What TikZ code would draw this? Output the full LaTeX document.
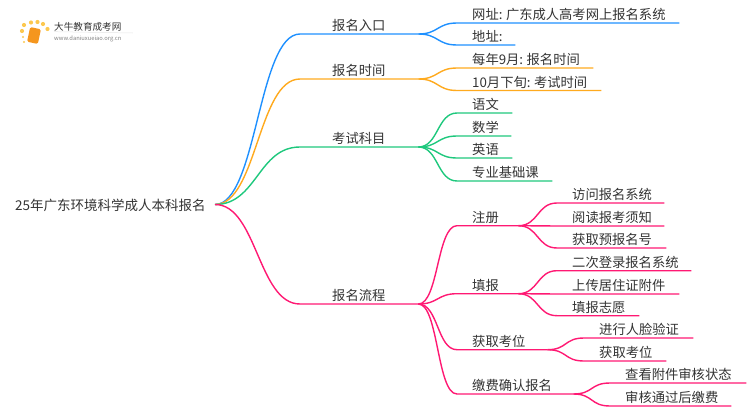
\documentclass[tikz,border=0pt]{standalone}
\usepackage{xcolor}
\usepackage{fontspec}
\setmainfont{Noto Sans CJK SC}
\usepackage{tikz}
\usetikzlibrary{calc}
\definecolor{myblue}{RGB}{30,144,255}
\definecolor{myamber}{RGB}{255,170,30}
\definecolor{mygreen}{RGB}{30,200,125}
\definecolor{mypink}{RGB}{255,25,115}
\definecolor{mytext}{RGB}{51,51,51}
\definecolor{mybook}{RGB}{245,150,30}
\definecolor{mydot}{RGB}{252,200,80}
\tikzset{
  rootnode/.style={anchor=west, inner sep=0pt, text=mytext, font=\fontsize{13.5}{16}\selectfont},
  topicnode/.style={anchor=south west, inner sep=0pt, align=left, text=mytext,
    text height=11pt, text depth=3pt, font=\fontsize{13.3}{16}\selectfont},
  bluelink/.style={line width=1.4pt, color=myblue},
  amberlink/.style={line width=1.4pt, color=myamber},
  greenlink/.style={line width=1.4pt, color=mygreen},
  pinklink/.style={line width=1.4pt, color=mypink},
  logodot/.style={circle, fill=mydot, inner sep=0pt, minimum size=4.2pt}
}

\begin{document}
\begin{tikzpicture}[x=1pt, y=-1pt]
  \useasboundingbox (0,0) rectangle (750,410);

  % Logo
  \node[logodot] (d1) at (24,25) {};
  \node[logodot] (d2) at (22,31) {};
  \node[logodot] (d3) at (31,22.5) {};
  \node[logodot] (d4) at (37.5,22) {};
  \node[logodot] (d5) at (43,24) {};
  \node[logodot] (d6) at (47.5,29) {};
  \node[logodot, minimum size=2.4pt] (d7) at (23,37) {};
  \node[logodot, minimum size=2.4pt] (d8) at (24,42) {};
  \node[fill=mybook, rounded corners=1.5pt, minimum width=11pt, minimum height=15pt, inner sep=0pt, rotate=-12] (book) at (34,35.5) {};
  \node[anchor=west, inner sep=0pt, text=mytext, font=\fontsize{9.6}{11}\selectfont] (logotxt) at (54,27) {大牛教育成考网};
  \node[anchor=west, inner sep=0pt, text=gray, font=\fontsize{5.8}{7}\selectfont] (logourl) at (54,38.5) {www.daniuxueiao.org.cn};
  \coordinate (logoend) at (133,33);
  \draw[gray!20, line width=0.5pt] (logotxt.south west) -- (logoend);

  % Root
  \node[rootnode] (root) at (15,205) {25年广东环境科学成人本科报名};
  \coordinate (start) at (215,204.5);

  % Topics
  \node[topicnode, text width=86pt] (rk) at (332,34) {报名入口};
  \node[topicnode, text width=86pt] (sj) at (332,79) {报名时间};
  \node[topicnode, text width=86pt] (km) at (332,147) {考试科目};
  \node[topicnode, text width=86pt] (lc) at (332,304) {报名流程};

  % Entry and time leaves
  \node[topicnode, text width=207pt] (wz) at (472,23) {网址:\hspace{3.5pt}广东成人高考网上报名系统};
  \node[topicnode, text width=43pt] (dz) at (472,45) {地址:};
  \node[topicnode, text width=121pt] (sj1) at (472,68) {每年9月:\hspace{3.5pt}报名时间};
  \node[topicnode, text width=129pt] (sj2) at (472,90.5) {10月下旬:\hspace{3.5pt}考试时间};

  % Subject leaves
  \node[topicnode, text width=40pt] (yw) at (472,113) {语文};
  \node[topicnode, text width=39pt] (sx) at (472,136) {数学};
  \node[topicnode, text width=40pt] (yy) at (472,158) {英语};
  \node[topicnode, text width=80pt] (zy) at (472,181) {专业基础课};

  % Process steps
  \node[topicnode, text width=46pt] (zc) at (472,225.7) {注册};
  \node[topicnode, text width=46pt] (tb) at (472,293.7) {填报};
  \node[topicnode, text width=75pt] (hq) at (472,349.7) {获取考位};
  \node[topicnode, text width=101pt] (jf) at (472,394) {缴费确认报名};

  % Process leaves
  \node[topicnode, text width=92pt] (zc1) at (572,203) {访问报名系统};
  \node[topicnode, text width=92pt] (zc2) at (572,226) {阅读报考须知};
  \node[topicnode, text width=94pt] (zc3) at (572,248) {获取预报名号};
  \node[topicnode, text width=119pt] (tb1) at (572,270.7) {二次登录报名系统};
  \node[topicnode, text width=107pt] (tb2) at (572,294) {上传居住证附件};
  \node[topicnode, text width=67pt] (tb3) at (572,315.7) {填报志愿};
  \node[topicnode, text width=94pt] (hq1) at (599,338) {进行人脸验证};
  \node[topicnode, text width=67pt] (hq2) at (599,361) {获取考位};
  \node[topicnode, text width=121pt] (jf1) at (625,383) {查看附件审核状态};
  \node[topicnode, text width=106pt] (jf2) at (625,406) {审核通过后缴费};

  % Root to topic curves
  \draw[bluelink] (start) .. controls +(42,0) and +(-42,0) .. ([xshift=-32pt]rk.south west) -- (rk.south east);
  \draw[amberlink] (start) .. controls +(42,0) and +(-42,0) .. ([xshift=-32pt]sj.south west) -- (sj.south east);
  \draw[greenlink] (start) .. controls +(42,0) and +(-42,0) .. ([xshift=-32pt]km.south west) -- (km.south east);
  \draw[pinklink] (start) .. controls +(42,0) and +(-42,0) .. ([xshift=-32pt]lc.south west) -- (lc.south east);

  % Topic to leaf curves
  \draw[bluelink] (rk.south east) .. controls +(20,0) and +(-20,0) .. ([xshift=-15pt]wz.south west) -- (wz.south east);
  \draw[bluelink] (rk.south east) .. controls +(20,0) and +(-20,0) .. ([xshift=-15pt]dz.south west) -- (dz.south east);
  \draw[amberlink] (sj.south east) .. controls +(20,0) and +(-20,0) .. ([xshift=-15pt]sj1.south west) -- (sj1.south east);
  \draw[amberlink] (sj.south east) .. controls +(20,0) and +(-20,0) .. ([xshift=-15pt]sj2.south west) -- (sj2.south east);
  \draw[greenlink] (km.south east) .. controls +(20,0) and +(-20,0) .. ([xshift=-15pt]yw.south west) -- (yw.south east);
  \draw[greenlink] (km.south east) .. controls +(20,0) and +(-20,0) .. ([xshift=-15pt]sx.south west) -- (sx.south east);
  \draw[greenlink] (km.south east) .. controls +(20,0) and +(-20,0) .. ([xshift=-15pt]yy.south west) -- (yy.south east);
  \draw[greenlink] (km.south east) .. controls +(20,0) and +(-20,0) .. ([xshift=-15pt]zy.south west) -- (zy.south east);
  \draw[pinklink] (lc.south east) .. controls +(20,0) and +(-20,0) .. ([xshift=-15pt]zc.south west) -- (zc.south east);
  \draw[pinklink] (lc.south east) .. controls +(20,0) and +(-20,0) .. ([xshift=-15pt]tb.south west) -- (tb.south east);
  \draw[pinklink] (lc.south east) .. controls +(20,0) and +(-20,0) .. ([xshift=-15pt]hq.south west) -- (hq.south east);
  \draw[pinklink] (lc.south east) .. controls +(20,0) and +(-20,0) .. ([xshift=-15pt]jf.south west) -- (jf.south east);

  % Step to leaf curves
  \draw[pinklink] (zc.south east) .. controls +(20,0) and +(-20,0) .. ([xshift=-15pt]zc1.south west) -- (zc1.south east);
  \draw[pinklink] (zc.south east) .. controls +(20,0) and +(-20,0) .. ([xshift=-15pt]zc2.south west) -- (zc2.south east);
  \draw[pinklink] (zc.south east) .. controls +(20,0) and +(-20,0) .. ([xshift=-15pt]zc3.south west) -- (zc3.south east);
  \draw[pinklink] (tb.south east) .. controls +(20,0) and +(-20,0) .. ([xshift=-15pt]tb1.south west) -- (tb1.south east);
  \draw[pinklink] (tb.south east) .. controls +(20,0) and +(-20,0) .. ([xshift=-15pt]tb2.south west) -- (tb2.south east);
  \draw[pinklink] (tb.south east) .. controls +(20,0) and +(-20,0) .. ([xshift=-15pt]tb3.south west) -- (tb3.south east);
  \draw[pinklink] (hq.south east) .. controls +(20,0) and +(-20,0) .. ([xshift=-15pt]hq1.south west) -- (hq1.south east);
  \draw[pinklink] (hq.south east) .. controls +(20,0) and +(-20,0) .. ([xshift=-15pt]hq2.south west) -- (hq2.south east);
  \draw[pinklink] (jf.south east) .. controls +(20,0) and +(-20,0) .. ([xshift=-15pt]jf1.south west) -- (jf1.south east);
  \draw[pinklink] (jf.south east) .. controls +(20,0) and +(-20,0) .. ([xshift=-15pt]jf2.south west) -- (jf2.south east);
\end{tikzpicture}
\end{document}
